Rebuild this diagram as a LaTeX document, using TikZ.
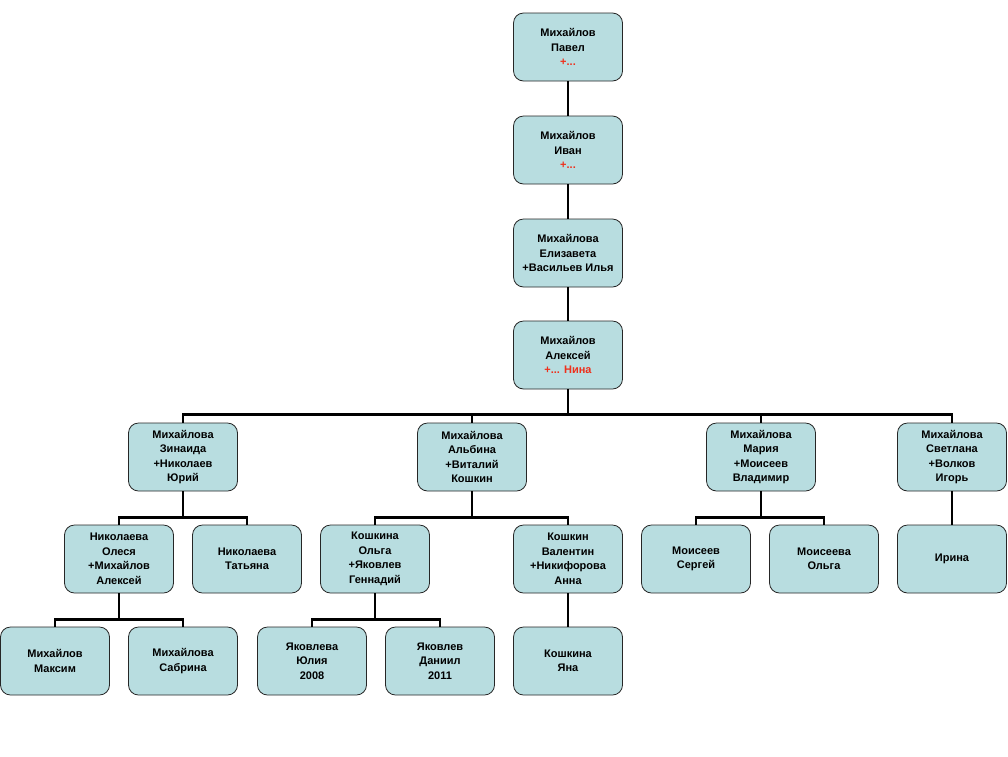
\documentclass[tikz,border=0pt]{standalone}
\usepackage{fontspec}
\setmainfont{Liberation Sans}
\usepackage{color}
\definecolor{boxfill}{RGB}{184,221,224}
\definecolor{plusred}{RGB}{238,48,28}

\begin{document}
\begin{tikzpicture}[x=1pt,y=-1pt,person node/.style={rectangle,rounded corners=10pt,draw=black!85,line width=0.8pt,fill=boxfill,minimum width=109pt,minimum height=68pt,inner sep=2pt,align=center,font=\fontsize{11}{14.5}\selectfont\bfseries},link/.style={line width=2.6pt}]
    \useasboundingbox (0,0) rectangle (1008,756);
    % main line
    \node[person node] (pavel) at (568,47) {Михайлов\\Павел\\\textcolor{plusred}{+...}};
    \node[person node] (ivan) at (568,150) {Михайлов\\Иван\\\textcolor{plusred}{+...}};
    \node[person node] (eliz) at (568,253) {Михайлова\\Елизавета\\+Васильев Илья};
    \node[person node] (aleks) at (568,355) {Михайлов\\Алексей\\\textcolor{plusred}{+... Нина}};
    % children
    \node[person node] (zina) at (183,457) {Михайлова\\Зинаида\\+Николаев\\Юрий};
    \node[person node] (albina) at (472,457) {Михайлова\\Альбина\\+Виталий\\Кошкин};
    \node[person node] (maria) at (761,457) {Михайлова\\Мария\\+Моисеев\\Владимир};
    \node[person node] (sveta) at (952,457) {Михайлова\\Светлана\\+Волков\\Игорь};
    % grandchildren
    \node[person node] (olesya) at (119,559) {Николаева\\Олеся\\+Михайлов\\Алексей};
    \node[person node] (tatyana) at (247,559) {Николаева\\Татьяна};
    \node[person node] (olgaK) at (375,559) {Кошкина\\Ольга\\+Яковлев\\Геннадий};
    \node[person node] (valentin) at (568,559) {Кошкин\\Валентин\\+Никифорова\\Анна};
    \node[person node] (sergey) at (696,559) {Моисеев\\Сергей};
    \node[person node] (olgaM) at (824,559) {Моисеева\\Ольга};
    \node[person node] (irina) at (952,559) {Ирина};
    % great-grandchildren
    \node[person node] (maksim) at (55,661) {Михайлов\\Максим};
    \node[person node] (sabrina) at (183,661) {Михайлова\\Сабрина};
    \node[person node] (yulia) at (312,661) {Яковлева\\Юлия\\2008};
    \node[person node] (daniil) at (440,661) {Яковлев\\Даниил\\2011};
    \node[person node] (yana) at (568,661) {Кошкина\\Яна};

    \draw[link] (pavel) -- (ivan);
    \draw[link] (ivan) -- (eliz);
    \draw[link] (eliz) -- (aleks);
    \foreach \c in {zina,albina,maria,sveta}
        \draw[link] (aleks.south) -- ++(0,25) -| (\c.north);
    \foreach \c in {olesya,tatyana}
        \draw[link] (zina.south) -- ++(0,26) -| (\c.north);
    \foreach \c in {olgaK,valentin}
        \draw[link] (albina.south) -- ++(0,26) -| (\c.north);
    \foreach \c in {sergey,olgaM}
        \draw[link] (maria.south) -- ++(0,26) -| (\c.north);
    \draw[link] (sveta) -- (irina);
    \foreach \c in {maksim,sabrina}
        \draw[link] (olesya.south) -- ++(0,26) -| (\c.north);
    \foreach \c in {yulia,daniil}
        \draw[link] (olgaK.south) -- ++(0,26) -| (\c.north);
    \draw[link] (valentin) -- (yana);
\end{tikzpicture}
\end{document}
